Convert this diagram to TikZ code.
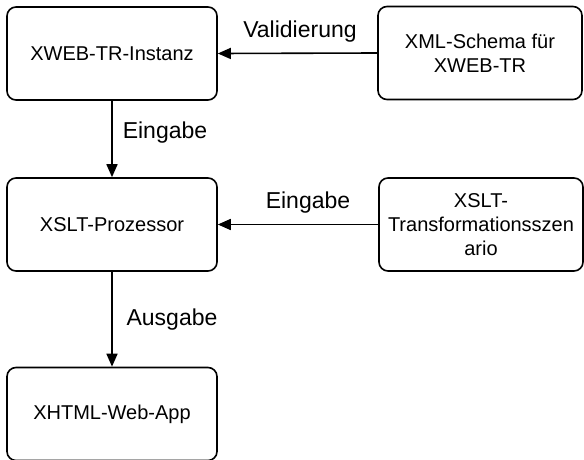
\documentclass[tikz,border=0pt]{standalone}
\usepackage{fontspec}
\setmainfont{Liberation Sans}
\usetikzlibrary{arrows.meta}
\begin{document}
\begin{tikzpicture}[x=1pt,y=-1pt,
  box/.style={draw, line width=1.6pt, rounded corners=9pt, minimum width=210pt, minimum height=93pt, inner sep=2pt, align=center, font=\fontsize{20}{24}\selectfont},
  lbl/.style={font=\fontsize{23}{27}\selectfont, inner sep=0pt},
  conn/.style={line width=1.6pt, -{Triangle[length=13pt,width=11pt]}}]
\useasboundingbox (0,0) rectangle (584,460);
\node[box] (inst) at (112,53.5) {XWEB-TR-Instanz};
\node[box] (proc) at (112,224.5) {XSLT-Prozessor};
\node[box] (app) at (112,414) {XHTML-Web-App};
\node[box, minimum width=204pt] (schema) at (480,53) {XML-Schema für\\XWEB-TR};
\node[box, minimum width=204pt] (szen) at (481,224.5) {XSLT-\\Transformationsszen\\ario};
\draw[conn] (schema.west) -- (inst.east);
\draw[conn] (szen.west) -- (proc.east);
\draw[conn] (inst.south) -- (proc.north);
\draw[conn] (proc.south) -- (app.north);
\node[lbl] (l1) at (300,32) {Validierung};
\node[lbl] (l2) at (308,203) {Eingabe};
\node[lbl] (l3) at (165,133) {Eingabe};
\node[lbl] (l4) at (172,320) {Ausgabe};
\end{tikzpicture}
\end{document}
